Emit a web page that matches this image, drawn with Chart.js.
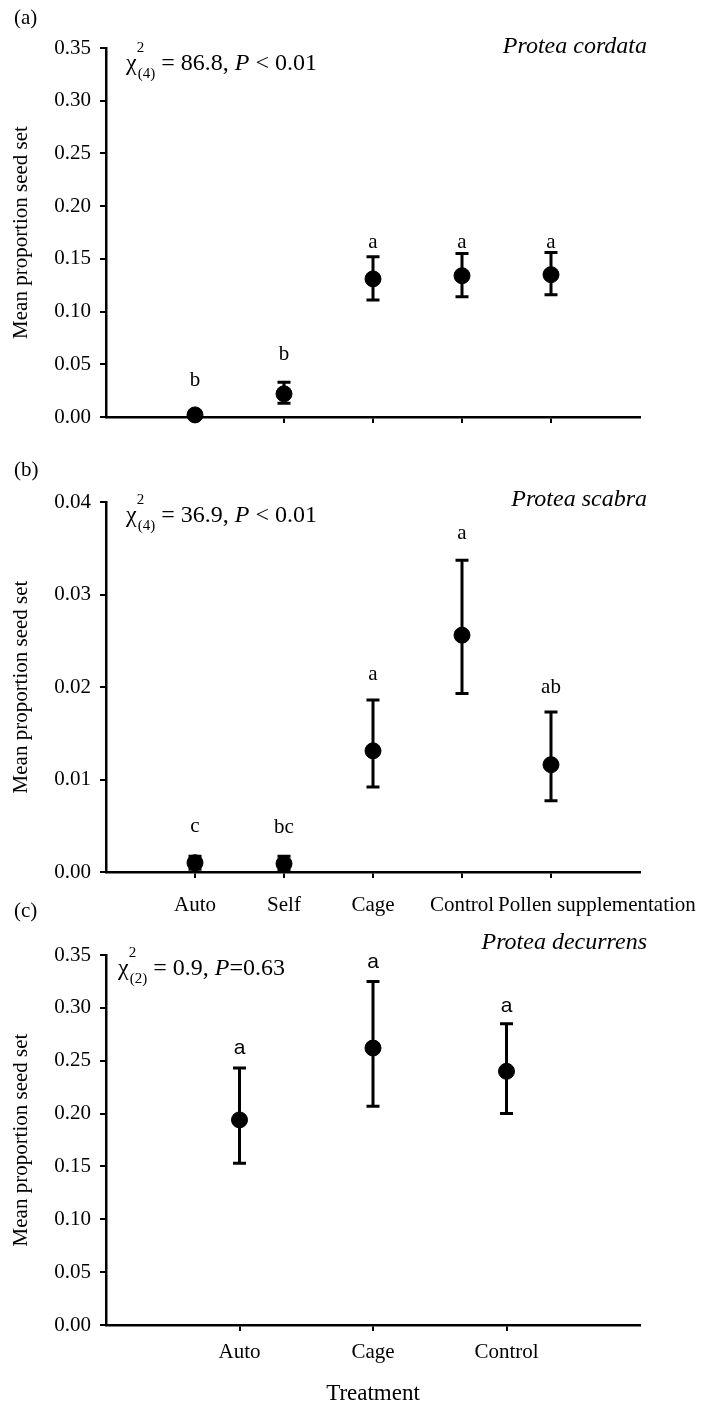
<!DOCTYPE html>
<html>
<head>
  <title>Protea seed set</title>
  <script src="https://cdn.jsdelivr.net/npm/chart.js"></script>
  <style>
    body {
      margin: 0;
      background: #fff;
      color: #000;
      font-family: 'Liberation Serif', 'Times New Roman', serif;
    }
    #page { position: relative; width: 701px; height: 1409px; overflow: hidden; }
    .panel { position: absolute; left: 0; width: 701px; }
    .txt { position: absolute; font-size: 21px; line-height: 1; white-space: nowrap; }
    .stat { position: absolute; font-size: 24px; line-height: 1; white-space: nowrap; }
    .sp { position: absolute; right: 54px; font-size: 24px; font-style: italic; line-height: 1; white-space: nowrap; }
    .stack { position: relative; display: inline-block; }
    .stack .up { position: absolute; left: 0; top: -0.7em; font-size: 15px; }
    .stack .dn { position: relative; top: 0.5em; font-size: 15px; padding-left: 1px; }
  </style>
</head>
<body>
<div id="page">
  <div class="panel" style="top:0"><canvas id="chartA" width="701" height="450"></canvas></div>
  <div class="panel" style="top:450px"><canvas id="chartB" width="701" height="470"></canvas></div>
  <div class="panel" style="top:890px"><canvas id="chartC" width="701" height="519"></canvas></div>

  <div class="txt" style="left:14px;top:7px">(a)</div>
  <div class="stat" style="left:126px;top:50px">&chi;<span class="stack"><span class="up">2</span><span class="dn">(4)</span></span> = 86.8, <i>P</i> &lt; 0.01</div>
  <div class="sp" style="top:33px">Protea cordata</div>

  <div class="txt" style="left:14px;top:459px">(b)</div>
  <div class="stat" style="left:126px;top:502px">&chi;<span class="stack"><span class="up">2</span><span class="dn">(4)</span></span> = 36.9, <i>P</i> &lt; 0.01</div>
  <div class="sp" style="top:486px">Protea scabra</div>

  <div class="txt" style="left:14px;top:900px">(c)</div>
  <div class="stat" style="left:118px;top:955px">&chi;<span class="stack"><span class="up">2</span><span class="dn">(2)</span></span> = 0.9, <i>P</i>=0.63</div>
  <div class="sp" style="top:929px">Protea decurrens</div>
</div>

<script>
  // (a) Protea cordata
  const aCats = ['Auto', 'Self', 'Cage', 'Control', 'Pollen supplementation'];
  const aMean = [0.002, 0.022, 0.131, 0.134, 0.135];
  const aLow = [0.001, 0.013, 0.111, 0.114, 0.116];
  const aHigh = [0.003, 0.033, 0.152, 0.155, 0.156];
  const aLetters = ['b', 'b', 'a', 'a', 'a'];
  const aLetterAt = [0.035, 0.059, 0.166, 0.166, 0.166];
  const aTicks = [0, 0.05, 0.10, 0.15, 0.20, 0.25, 0.30, 0.35];

  // (b) Protea scabra
  const bCats = ['Auto', 'Self', 'Cage', 'Control', 'Pollen supplementation'];
  const bMean = [0.0010, 0.0009, 0.0131, 0.0256, 0.0116];
  const bLow = [0.0003, 0.0002, 0.0092, 0.0193, 0.0077];
  const bHigh = [0.0017, 0.0017, 0.0186, 0.0337, 0.0173];
  const bLetters = ['c', 'bc', 'a', 'a', 'ab'];
  const bLetterAt = [0.0049, 0.0048, 0.0213, 0.0366, 0.0200];
  const bTicks = [0, 0.01, 0.02, 0.03, 0.04];

  // (c) Protea decurrens
  const cCats = ['Auto', 'Cage', 'Control'];
  const cMean = [0.194, 0.262, 0.240];
  const cLow = [0.153, 0.207, 0.200];
  const cHigh = [0.243, 0.325, 0.285];
  const cLetters = ['a', 'a', 'a'];
  const cLetterAt = [0.262, 0.343, 0.302];
  const cTicks = [0, 0.05, 0.10, 0.15, 0.20, 0.25, 0.30, 0.35];

  const serif = "'Liberation Serif', 'Times New Roman', serif";
  const sans = "'Liberation Sans', Arial, sans-serif";

  // error bars under the points, letters above, optional shifted x labels
  function marks(low, high, letters, letterAt, letterFont, ownLabels) {
    return {
      id: 'marks',
      beforeDatasetsDraw(chart) {
        const { ctx, scales: { x, y } } = chart;
        ctx.save();
        ctx.strokeStyle = '#000';
        ctx.lineWidth = 3;
        low.forEach((lo, i) => {
          const px = x.getPixelForValue(i + 1);
          const y1 = y.getPixelForValue(lo), y2 = y.getPixelForValue(high[i]);
          ctx.beginPath();
          ctx.moveTo(px, y1); ctx.lineTo(px, y2);
          ctx.moveTo(px - 6.5, y1); ctx.lineTo(px + 6.5, y1);
          ctx.moveTo(px - 6.5, y2); ctx.lineTo(px + 6.5, y2);
          ctx.stroke();
        });
        ctx.restore();
      },
      afterDraw(chart) {
        const { ctx, chartArea, scales: { x, y } } = chart;
        ctx.save();
        ctx.fillStyle = '#000';
        ctx.textAlign = 'center';
        ctx.textBaseline = 'middle';
        ctx.font = letterFont;
        letters.forEach((t, i) => {
          ctx.fillText(t, x.getPixelForValue(i + 1), y.getPixelForValue(letterAt[i]));
        });
        if (ownLabels) {
          // the long last label is pushed right so it clears "Control"
          ctx.font = '21px ' + serif;
          ctx.textAlign = 'left';
          let prevRight = -Infinity;
          ownLabels.forEach((t, i) => {
            const w = ctx.measureText(t).width;
            let left = Math.max(x.getPixelForValue(i + 1) - w / 2, prevRight + 4);
            left = Math.min(left, 698 - w);
            ctx.fillText(t, left, chartArea.bottom + 33);
            prevRight = left + w;
          });
        }
        ctx.restore();
      }
    };
  }

  function panel(id, cats, mean, low, high, letters, letterAt, yTicks, o) {
    const axisLine = { color: '#000', width: 2.5 };
    const tickMarks = { drawOnChartArea: false, drawTicks: true, tickLength: 6, color: '#000', lineWidth: 2 };
    return new Chart(document.getElementById(id), {
      type: 'scatter',
      data: {
        datasets: [{
          data: mean.map((v, i) => ({ x: i + 1, y: v })),
          pointRadius: 8,
          pointHoverRadius: 8,
          backgroundColor: '#000',
          borderColor: '#000',
          clip: false
        }]
      },
      options: {
        responsive: false,
        animation: false,
        events: [],
        layout: { padding: { left: 0, right: 61, top: o.top, bottom: 0 } },
        plugins: { legend: { display: false }, tooltip: { enabled: false } },
        scales: {
          x: {
            type: 'linear',
            min: 0,
            max: cats.length + 1,
            afterBuildTicks: s => { s.ticks = cats.map((c, i) => ({ value: i + 1 })); },
            afterFit: s => { s.height = o.xh; },
            grid: tickMarks,
            border: axisLine,
            ticks: {
              autoSkip: false, maxRotation: 0, padding: 9, color: '#000',
              font: { family: serif, size: 21 },
              callback: v => o.nativeX ? cats[Math.round(v) - 1] : ''
            },
            title: {
              display: !!o.xTitle, text: o.xTitle || '', color: '#000',
              font: { family: serif, size: 23 }, padding: { top: 0, bottom: 1 }
            }
          },
          y: {
            min: 0,
            max: yTicks[yTicks.length - 1],
            afterBuildTicks: s => { s.ticks = yTicks.map(v => ({ value: v })); },
            afterFit: s => { s.width = 106; },
            grid: tickMarks,
            border: axisLine,
            ticks: {
              padding: 9, color: '#000',
              font: { family: serif, size: 21 },
              callback: v => v.toFixed(2)
            },
            title: {
              display: true, text: 'Mean proportion seed set', color: '#000',
              font: { family: serif, size: 21 }, padding: { top: 9, bottom: 0 }
            }
          }
        }
      },
      plugins: [marks(low, high, letters, letterAt, o.letterFont, o.ownLabels)]
    });
  }

  panel('chartA', aCats, aMean, aLow, aHigh, aLetters, aLetterAt, aTicks,
    { top: 48, xh: 33, letterFont: '21px ' + serif });
  panel('chartB', bCats, bMean, bLow, bHigh, bLetters, bLetterAt, bTicks,
    { top: 52, xh: 48, letterFont: '21px ' + serif, ownLabels: bCats });
  panel('chartC', cCats, cMean, cLow, cHigh, cLetters, cLetterAt, cTicks,
    { top: 65, xh: 84, letterFont: '21px ' + sans, nativeX: true, xTitle: 'Treatment' });
</script>
</body>
</html>
